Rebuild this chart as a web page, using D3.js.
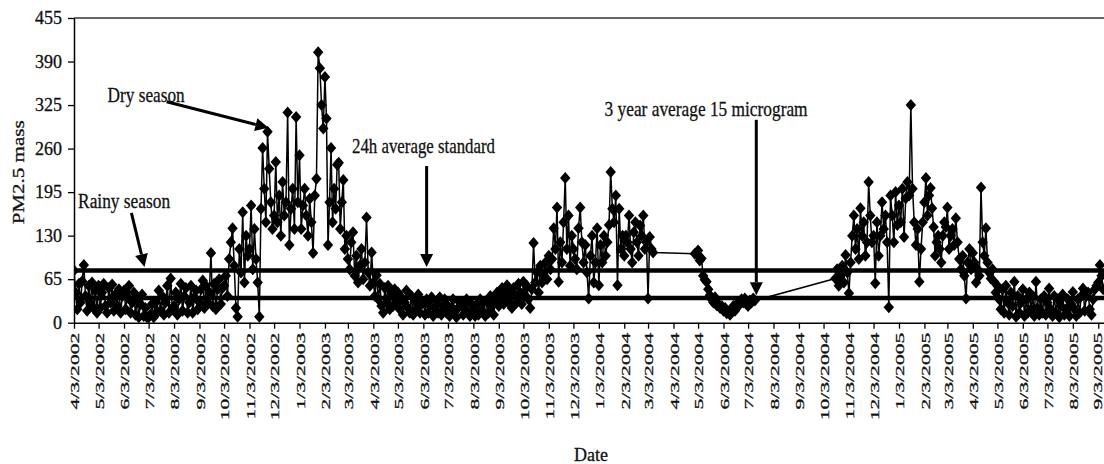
<!DOCTYPE html>
<html>
<head>
<meta charset="utf-8">
<script src="https://cdn.jsdelivr.net/npm/d3@7"></script>
<style>
  body { margin: 0; background: #ffffff; }
  svg { display: block; }
  text { font-family: "Liberation Serif", "Times New Roman", serif; fill: #111; stroke: #111; stroke-width: 0.3px; }
</style>
</head>
<body>
<svg id="chart" width="1104" height="464"></svg>
<script>
// Month labels on the date axis (one tick on the 3rd of each month)
const xTickLabels = [
  "4/3/2002","5/3/2002","6/3/2002","7/3/2002","8/3/2002","9/3/2002","10/3/2002","11/3/2002","12/3/2002",
  "1/3/2003","2/3/2003","3/3/2003","4/3/2003","5/3/2003","6/3/2003","7/3/2003","8/3/2003","9/3/2003","10/3/2003","11/3/2003","12/3/2003",
  "1/3/2004","2/3/2004","3/3/2004","4/3/2004","5/3/2004","6/3/2004","7/3/2004","8/3/2004","9/3/2004","10/3/2004","11/3/2004","12/3/2004",
  "1/3/2005","2/3/2005","3/3/2005","4/3/2005","5/3/2005","6/3/2005","7/3/2005","8/3/2005","9/3/2005"
];

const yTicks = [0, 65, 130, 195, 260, 325, 390, 455];

// PM2.5 readings, one list per month starting at that month's tick date.
// Sample i falls i/15 of the way through the month; null = no sample.
const pm2002 = [
  [78, 45, 20, 58, 30, 62, 86, 40, 18, 55, 28, 60, 22, 48, 15],
  [55, 22, 45, 58, 25, 15, 52, 30, 57, 18, 42, 25, 50, 15, 40],
  [48, 20, 38, 55, 15, 30, 45, 12, 35, 8, 28, 42, 10, 22, 8],
  [8, 12, 28, 8, 30, 15, 48, 18, 40, 12, 30, 55, 15, 66, 20],
  [25, 45, 12, 35, 58, 18, 40, 52, 15, 30, 55, 15, 38, 48, 20],
  [30, 50, 63, 22, 55, 30, 45, 104, 25, 58, 20, 50, 65, 28, 52],
  [55, 70, 40, 95, 120, 141, 85, 22, 9, 110, 75, 165, 60, 130, 100],
  [110, 175, 80, 140, 95, 60, 9, 170, 261, 200, 150, 285, 230, 180, 140],
  [160, 240, 150, 190, 130, 210, 160, 180, 314, 116, 170, 200, 140, 307, 180]
];
const pm2003 = [
  [250, 140, 175, 200, 160, 130, 185, 150, 104, 190, 215, 404, 380, 325, 290],
  [367, 305, 116, 180, 261, 150, 200, 170, 236, 239, 140, 180, 213, 110, 130],
  [95, 80, 120, 135, 70, 100, 60, 85, 110, 65, 90, 157, 75, 55, 105],
  [60, 40, 71, 35, 58, 25, 15, 52, 30, 55, 20, 45, 25, 50, 30],
  [45, 20, 38, 12, 30, 48, 22, 15, 40, 12, 32, 20, 42, 15, 28],
  [30, 12, 35, 15, 25, 38, 10, 22, 32, 15, 38, 12, 25, 35, 15],
  [25, 10, 22, 35, 18, 8, 22, 30, 25, 12, 22, 35, 15, 10, 28],
  [20, 10, 28, 12, 35, 18, 30, 10, 32, 15, 40, 25, 12, 35, 45],
  [25, 38, 52, 28, 42, 56, 30, 48, 22, 52, 40, 30, 58, 45, 28],
  [61, 40, 55, 35, 22, 50, 119, 60, 75, 45, 85, 60, 70, 90, 65],
  [100, 80, 95, 141, 110, 172, 61, 120, 90, 150, 216, 110, 160, 85, 130],
  [110, 95, 80, 141, 172, 120, 90, 116, 75, 36, 100, 130, 60, 90, 141]
];
const pm2004 = [
  [56, 116, 90, 130, 100, 120, 146, 225, 170, 150, 190, 56, 170, 110, 130],
  [100, 130, 120, 160, 110, 90, 135, 150, 120, 100, 145, 130, 160, 110, 120],
  [36, 128, 110, 105],
  [null, null, null, null, null, null, null, null, null, null, null, null, null, 103, 104],
  [108, 93, 96, 70, 64, 61, 50, 41, 35, 30, 38, 26, 28, 22, 25],
  [18, 22, 14, 16, 12, 20, 25, 18, 22, 31, 28, 35, 30, 36, 28],
  [25, 33, 30, 36, 33],
  [],
  [],
  [null, null, null, null, null, null, null, 66, 80, 55, 70, 85, 60, 101, 75],
  [44, 90, 130, 160, 110, 140, 95, 171, 130, 150, 100, 120, 210, 160, 120],
  [130, 59, 150, 100, 130, 180, 140, 160, 120, 23, 190, 160, 120, 195, 146]
];
const pm2005 = [
  [175, 150, 200, 128, 186, 210, 190, 325, 200, 150, 116, 140, 61, 110, 150],
  [180, 216, 160, 190, 201, 171, 143, 100, 120, 130, 110, 90, 130, 150, 143],
  [172, 110, 130, 140, 116, 156, 120, 95, 80, 100, 70, 36, 90, 110, 80],
  [104, 90, 60, 80, 70, 202, 120, 100, 141, 90, 75, 66, 80, 61, 45],
  [55, 35, 20, 50, 15, 55, 30, 12, 45, 25, 61, 9, 40, 15, 30],
  [50, 10, 35, 15, 45, 20, 40, 10, 61, 22, 12, 35, 15, 40, 12],
  [30, 51, 20, 10, 40, 15, 35, 8, 25, 42, 12, 20, 35, 10, 28],
  [46, 20, 10, 35, 15, 40, 51, 18, 40, 45, 20, 12, 35, 50, 55],
  [60, 86, 70, 50]
];

// Horizontal reference levels
const referenceLevels = [78, 37];

// Callouts: label text with its anchor, and arrow from/to, in date/value units
const callouts = [
  { text: "Dry season", at: ["5/14/2002", 329], width: 77, size: 21,
    from: ["7/25/2002", 330], to: ["11/26/2002", 291] },
  { text: "Rainy season", at: ["4/8/2002", 172], width: 92, size: 20,
    from: ["6/12/2002", 164], to: ["6/28/2002", 83] },
  { text: "24h average standard", at: ["3/8/2003", 253], width: 143, size: 21,
    from: ["6/7/2003", 234], to: ["6/7/2003", 83] },
  { text: "3 year average 15 microgram", at: ["1/10/2004", 308], width: 203, size: 21,
    from: ["7/13/2004", 303], to: ["7/13/2004", 41] }
];

const parseDate = d3.timeParse("%m/%d/%Y");
const tickDates = xTickLabels.map(parseDate);

const series = [];
[...pm2002, ...pm2003, ...pm2004, ...pm2005].forEach((vals, m) => {
  const start = tickDates[m];
  const span = d3.timeMonth.offset(start, 1) - start;
  vals.forEach((v, i) => {
    if (v !== null) series.push({ date: new Date(+start + span * i / 15), value: v });
  });
});

const svg = d3.select("#chart");
const W = 1104, H = 464;
const margin = { left: 74, top: 18, bottom: 141 };

const x = d3.scaleTime()
  .domain([tickDates[0], d3.timeDay.offset(tickDates[tickDates.length - 1], 7)])
  .range([margin.left, W]);
const y = d3.scaleLinear()
  .domain([0, 455])
  .range([H - margin.bottom - 0.3, margin.top]);

svg.append("rect").attr("width", W).attr("height", H).attr("fill", "#ffffff");

svg.append("clipPath").attr("id", "plot-clip")
  .append("rect")
  .attr("x", margin.left).attr("y", 0)
  .attr("width", W - margin.left).attr("height", H);

// plot frame top edge
svg.append("line")
  .attr("x1", margin.left).attr("x2", W)
  .attr("y1", y(455)).attr("y2", y(455))
  .attr("stroke", "#333").attr("stroke-width", 1.6);

// y axis
const yAxis = svg.append("g")
  .attr("transform", `translate(${margin.left},0)`)
  .call(d3.axisLeft(y).tickValues(yTicks).tickSize(6).tickSizeOuter(0).tickPadding(6));
yAxis.select(".domain").attr("stroke", "#000").attr("stroke-width", 1.5);
yAxis.selectAll(".tick line").attr("stroke", "#000").attr("stroke-width", 1.3);
yAxis.selectAll(".tick text")
  .attr("font-size", 18)
  .attr("font-family", "Liberation Serif, serif")
  .attr("fill", "#111");

// x axis
const xAxis = svg.append("g")
  .attr("transform", `translate(0,${y(0)})`)
  .call(d3.axisBottom(x).tickValues(tickDates).tickSize(6).tickSizeOuter(0)
    .tickFormat((d, i) => xTickLabels[i]));
xAxis.select(".domain").attr("stroke", "#000").attr("stroke-width", 1.5);
xAxis.selectAll(".tick line").attr("stroke", "#000").attr("stroke-width", 1.3);
xAxis.selectAll(".tick text")
  .attr("font-size", 13.5)
  .attr("font-family", "Liberation Serif, serif")
  .attr("fill", "#111")
  .attr("text-anchor", "end")
  .attr("transform", "rotate(-90)")
  .attr("x", -10)
  .attr("y", (d, i) => i === xTickLabels.length - 1 ? -2 : 0)
  .attr("dy", "0.36em")
  .each(function () {
    const len = this.getComputedTextLength();
    d3.select(this).attr("textLength", len * 1.6).attr("lengthAdjust", "spacingAndGlyphs");
  });

// axis titles
svg.append("text")
  .attr("transform", `translate(24,${(y(0) + y(455)) / 2 + 2}) rotate(-90)`)
  .attr("text-anchor", "middle")
  .attr("font-size", 16)
  .attr("textLength", 104).attr("lengthAdjust", "spacingAndGlyphs")
  .text("PM2.5 mass");

svg.append("text")
  .attr("x", (x.range()[0] + x.range()[1]) / 2 + 2)
  .attr("y", 461)
  .attr("text-anchor", "middle")
  .attr("font-size", 18)
  .attr("textLength", 34).attr("lengthAdjust", "spacingAndGlyphs")
  .text("Date");

const plot = svg.append("g").attr("clip-path", "url(#plot-clip)");

// measurement series
plot.append("path")
  .datum(series)
  .attr("fill", "none")
  .attr("stroke", "#000")
  .attr("stroke-width", 1.5)
  .attr("stroke-linejoin", "round")
  .attr("d", d3.line().x(d => x(d.date)).y(d => y(d.value)));

plot.selectAll("path.pt")
  .data(series)
  .join("path")
  .attr("class", "pt")
  .attr("transform", d => `translate(${x(d.date)},${y(d.value)})`)
  .attr("d", "M0,-6L5.2,0L0,6L-5.2,0Z")
  .attr("fill", "#000");

// reference levels
plot.selectAll("line.ref")
  .data(referenceLevels)
  .join("line")
  .attr("class", "ref")
  .attr("x1", margin.left).attr("x2", W)
  .attr("y1", d => y(d)).attr("y2", d => y(d))
  .attr("stroke", "#000").attr("stroke-width", 4.5);

// callouts
const pos = p => [x(parseDate(p[0])), y(p[1])];
callouts.forEach(c => {
  const [tx, ty] = pos(c.at);
  svg.append("text")
    .attr("x", tx).attr("y", ty)
    .attr("font-size", c.size)
    .attr("textLength", c.width).attr("lengthAdjust", "spacingAndGlyphs")
    .text(c.text);

  const [x1, y1] = pos(c.from);
  const [x2, y2] = pos(c.to);
  const ang = Math.atan2(y2 - y1, x2 - x1);
  const headLen = 13, headHalf = 6.5;
  const bx = x2 - headLen * Math.cos(ang), by = y2 - headLen * Math.sin(ang);
  svg.append("line")
    .attr("x1", x1).attr("y1", y1).attr("x2", bx).attr("y2", by)
    .attr("stroke", "#000").attr("stroke-width", 3);
  const nx = -Math.sin(ang), ny = Math.cos(ang);
  svg.append("path")
    .attr("d", `M${x2},${y2}L${bx + nx * headHalf},${by + ny * headHalf}L${bx - nx * headHalf},${by - ny * headHalf}Z`)
    .attr("fill", "#000");
});
</script>
</body>
</html>
